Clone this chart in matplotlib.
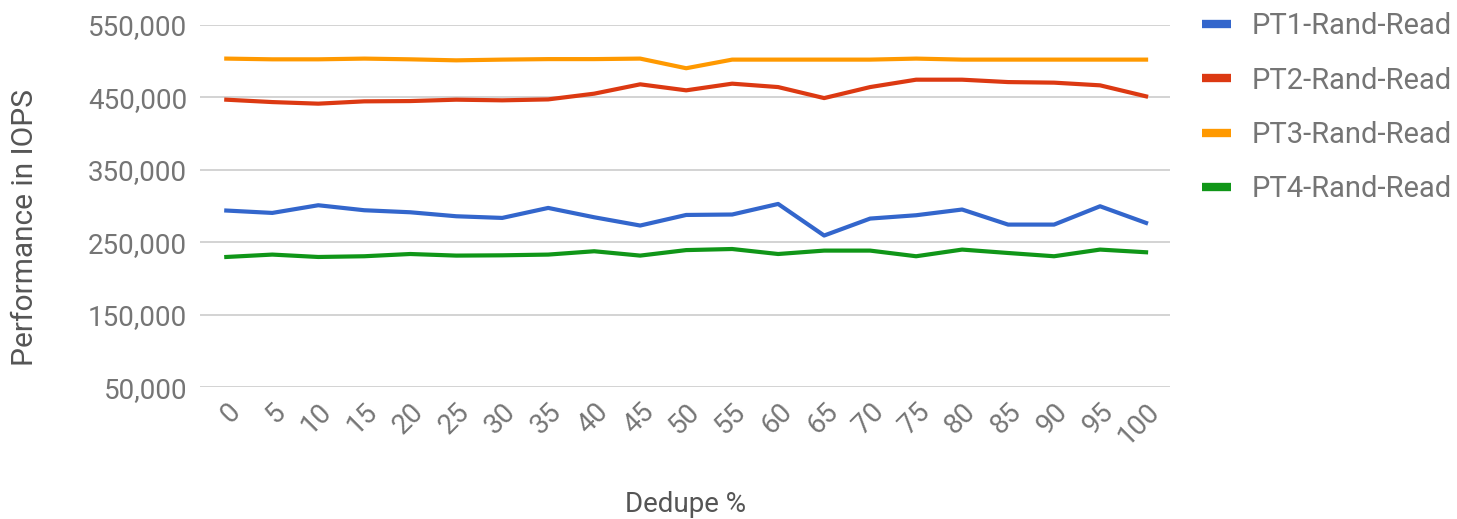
import matplotlib.pyplot as plt
from matplotlib.ticker import FuncFormatter

plt.rcParams['font.family'] = ['Roboto', 'DejaVu Sans']

# Dedupe percentage categories
dedupe = [0, 5, 10, 15, 20, 25, 30, 35, 40, 45, 50,
          55, 60, 65, 70, 75, 80, 85, 90, 95, 100]

# IOPS per series
pt1 = [293800, 290500, 301100, 294200, 291400, 285900, 283600, 297400, 284500, 273100, 287700,
       288300, 302900, 259300, 282700, 287300, 295200, 274400, 274400, 299700, 276700]
pt2 = [446800, 443500, 441300, 444500, 444900, 446800, 445900, 447200, 455100, 468000, 459700,
       468900, 464200, 449000, 464200, 474400, 474400, 471100, 470300, 466600, 451400]
pt3 = [503500, 502500, 502500, 503500, 502500, 501100, 502100, 502800, 502800, 503500, 490200,
       502100, 502100, 502100, 502100, 503500, 502100, 502100, 502100, 502100, 502100]
pt4 = [229700, 233000, 229700, 230700, 233800, 231600, 232000, 233000, 237600, 231600, 239200,
       240700, 233800, 238500, 238500, 230700, 239900, 235200, 230700, 239900, 236200]

series = [("PT1-Rand-Read", pt1, "#3366cc"),
          ("PT2-Rand-Read", pt2, "#dc3912"),
          ("PT3-Rand-Read", pt3, "#ff9900"),
          ("PT4-Rand-Read", pt4, "#109618")]

yticks = [50000, 150000, 250000, 350000, 450000, 550000]

W, H = 1457, 519
fig = plt.figure(figsize=(W / 100, H / 100), dpi=100)
ax = fig.add_axes([0.137, 0.254, 0.666, 0.698])

for name, vals, col in series:
    ax.plot(dedupe, vals, color=col, linewidth=3, label=name, solid_joinstyle='round')

ax.set_xlim(-2.9, 102.6)
ax.set_ylim(50000, 550000)
ax.set_yticks(yticks)
ax.yaxis.set_major_formatter(FuncFormatter(lambda v, p: f"{int(v):,}"))
ax.set_xticks(dedupe)
ax.set_xticklabels([str(d) for d in dedupe], rotation=45, ha='right', va='top',
                   rotation_mode='anchor')
ax.grid(axis='y', color='#cccccc', linewidth=1.2)
ax.set_axisbelow(True)
for s in ax.spines.values():
    s.set_visible(False)
ax.tick_params(length=0, labelsize=20, labelcolor='#757575')
ax.tick_params(axis='y', pad=9)
ax.tick_params(axis='x', pad=8)

# axis titles placed in figure pixels
fig.text(686 / W, 1 - 505 / H, "Dedupe %", fontsize=20, color='#555555',
         ha='center', va='center')
fig.text(25 / W, 1 - 228 / H, "Performance in IOPS", fontsize=21.5, color='#555555',
         ha='center', va='center', rotation=90)

leg = ax.legend(loc='upper left', bbox_to_anchor=(1.018, 1.075), frameon=False,
                fontsize=21, labelcolor='#757575', handlelength=1.0, handletextpad=0.7,
                labelspacing=0.9, borderpad=0)
for h in leg.get_lines():
    h.set_linewidth(6)
    h.set_solid_capstyle('butt')

fig.savefig("out.png", dpi=100)
